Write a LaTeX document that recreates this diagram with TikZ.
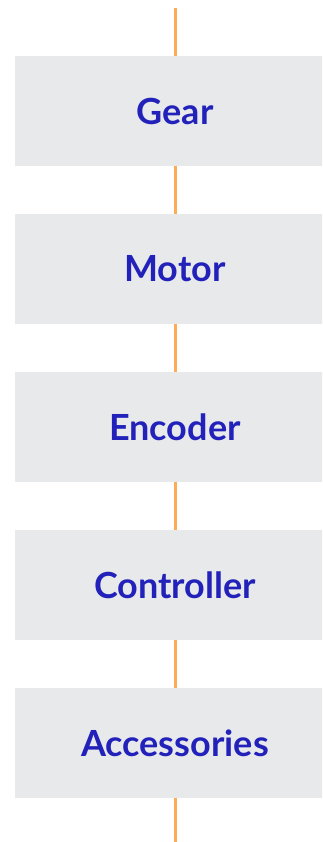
\documentclass[tikz,border=0pt]{standalone}
\usepackage{fontspec}
\setmainfont{Lato}
\definecolor{boxfill}{HTML}{E8E9EB}
\definecolor{linec}{HTML}{FFAA55}
\definecolor{txt}{HTML}{2222BB}
\begin{document}
\begin{tikzpicture}[x=1pt,y=-1pt,
  stage/.style={fill=boxfill,draw=none,minimum width=320pt,minimum height=110pt,inner sep=0pt,
    font=\fontsize{36}{42}\selectfont\bfseries,text=txt},
  link/.style={draw=linec,line width=3pt}]
\useasboundingbox (0,0) rectangle (322,842);
\begin{scope}
\clip (0,0) rectangle (322,842);
\node[stage] (gear) at (175,111) {Gear};
\node[stage] (motor) at (175,269) {Motor};
\node[stage] (enc) at (175,427) {Encoder};
\node[stage] (ctrl) at (175,585) {Controller};
\node[stage] (acc) at (175,743) {Accessories};
\coordinate (top) at (175,8);
\coordinate (bot) at (175,842);
\draw[link] (top) -- (gear.north);
\draw[link] (gear.south) -- (motor.north);
\draw[link] (motor.south) -- (enc.north);
\draw[link] (enc.south) -- (ctrl.north);
\draw[link] (ctrl.south) -- (acc.north);
\draw[link] (acc.south) -- (bot);
\end{scope}
\end{tikzpicture}
\end{document}
